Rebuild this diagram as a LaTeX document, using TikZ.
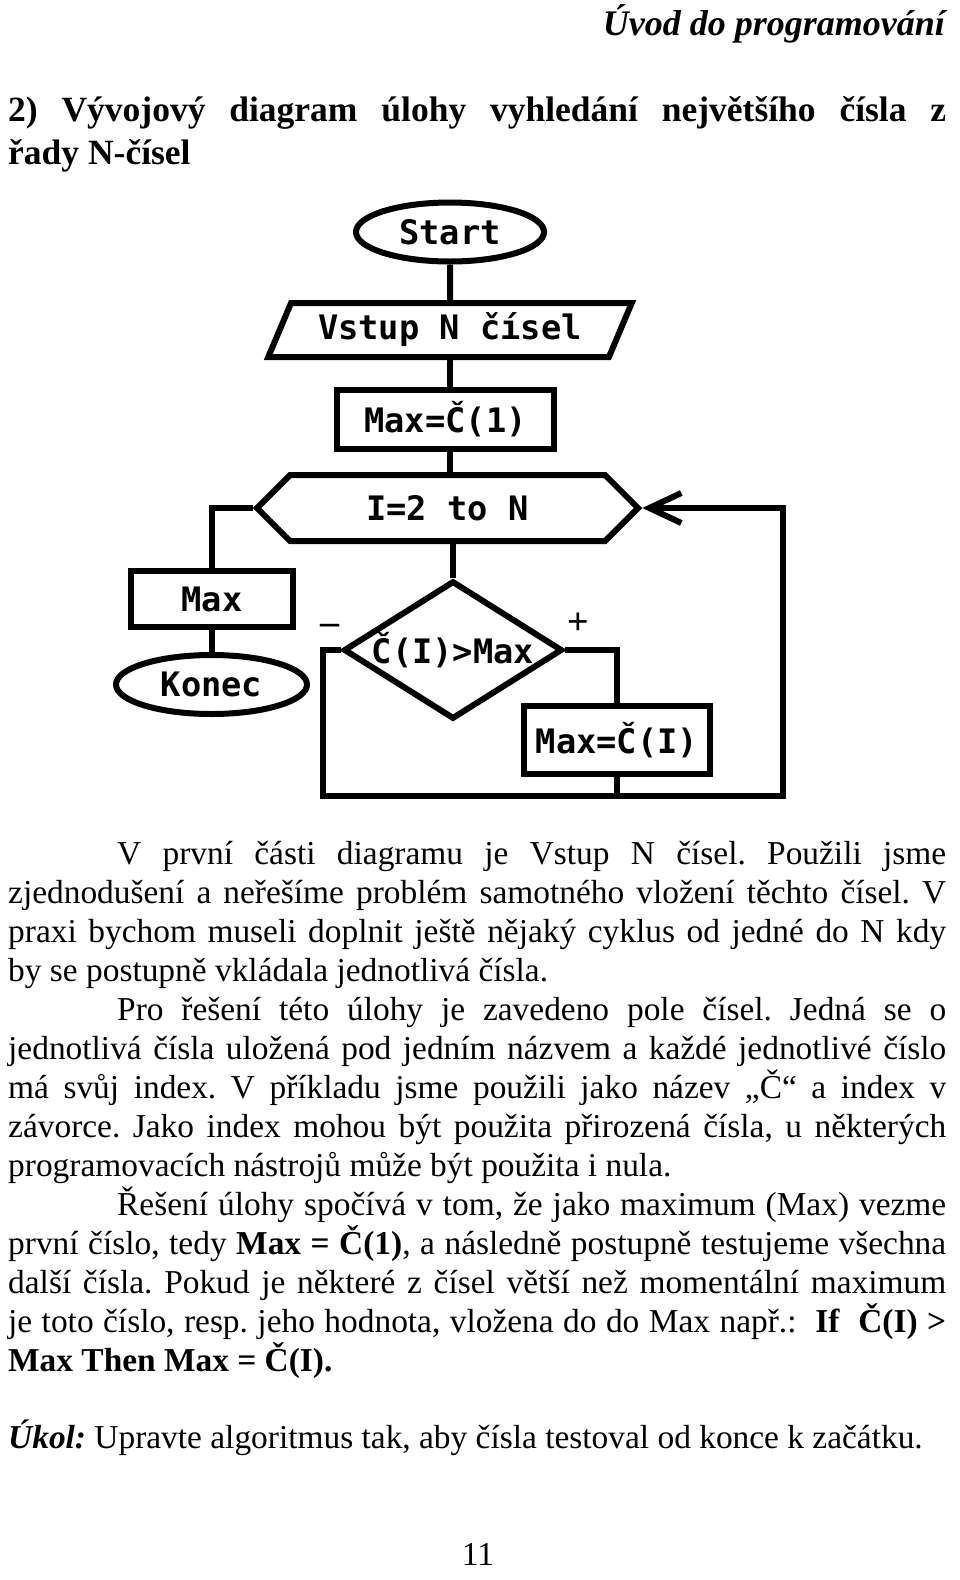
\documentclass[tikz,border=0pt]{standalone}
\usepackage{fontspec}
\setmainfont{Liberation Serif}
\newfontfamily\dgfont{DejaVu Sans Mono}
\usetikzlibrary{shapes.geometric,shapes.symbols,arrows.meta}
\frenchspacing
\begin{document}
\begin{tikzpicture}[x=1pt,y=-1pt,
  body/.style={inner sep=0pt, anchor=base west, font=\fontsize{33.4}{39}\selectfont},
  flow/.style={draw, line width=6pt, inner sep=0pt, font=\dgfont\bfseries\fontsize{33.7}{36}\selectfont},
  conn/.style={line width=6pt},
  lbl/.style={inner sep=0pt, anchor=base, font=\fontsize{38}{40}\selectfont\bfseries},
]
\fill[white] (0,0) rectangle (960,1580);
\useasboundingbox (0,0) rectangle (960,1580);

% header
\node[inner sep=0pt, anchor=base east, font=\fontsize{36}{40}\selectfont\bfseries\itshape] (hdr) at (945,35) {Úvod do programování};
\node[inner sep=0pt, anchor=base west, font=\fontsize{35.5}{40}\selectfont\bfseries] (h1) at (8,121) {\makebox[938pt][s]{2) Vývojový diagram úlohy vyhledání největšího čísla z}};
\node[inner sep=0pt, anchor=base west, font=\fontsize{35.5}{40}\selectfont\bfseries] (h2) at (8,164) {řady N-čísel};

% flowchart
\node[flow, ellipse, minimum width=188pt, minimum height=59pt] (start) at (450,232) {Start};
\node[flow, trapezium, trapezium left angle=60.9, trapezium right angle=119.1, trapezium stretches=true, minimum width=364pt, minimum height=54pt] (inp) at (450,330) {Vstup N čísel};
\node[flow, rectangle, minimum width=217pt, minimum height=59pt] (max1) at (445.5,419.5) {Max=Č(1)};
\node[flow, signal, signal to=west and east, signal pointer angle=90, minimum width=381pt, minimum height=66pt] (loop) at (447.5,508) {I=2 to N};
\node[flow, rectangle, minimum width=162pt, minimum height=56pt] (maxout) at (212,599) {Max};
\node[flow, ellipse, minimum width=191pt, minimum height=59pt] (konec) at (211.5,684.5) {Konec};
\node[flow, diamond, aspect=1.582, minimum width=212pt, minimum height=134pt] (test) at (453,650) {Č(I)>Max};
\node[flow, rectangle, minimum width=186pt, minimum height=68pt] (max2) at (617,740) {Max=Č(I)};
\node[lbl] (minus) at (330,634) {–};
\node[lbl] (plus) at (578,634) {+};
\coordinate (bl) at (323,796);
\coordinate (br) at (783,796);

\draw[conn] (start.south) -- (inp.north);
\draw[conn] (inp.south) -- (inp.south |- max1.north);
\draw[conn] (max1.south -| inp.south) -- (loop.north -| inp.south);
\draw[conn] (loop.west) -| (maxout.north);
\draw[conn] (maxout.south) -- (maxout.south |- konec.north);
\draw[conn] (test.north |- loop.south) -- (test.north);
\draw[conn] (test.east) -| (max2.north);
\draw[conn] (max2.south) -- (max2.south |- bl);
\draw[conn, -{Straight Barb[length=32pt,width=30pt]}] (test.west) -| (bl) -- (br) |- (loop.east);

% body text
\node[body] (l1) at (117,864) {\makebox[829pt][s]{V první části diagramu je Vstup N čísel. Použili jsme}};
\node[body] (l2) at (8,903) {\makebox[938pt][s]{zjednodušení a neřešíme problém samotného vložení těchto čísel. V}};
\node[body] (l3) at (8,942) {\makebox[938pt][s]{praxi bychom museli doplnit ještě nějaký cyklus od jedné do N kdy}};
\node[body] (l4) at (8,981) {by se postupně vkládala jednotlivá čísla.};
\node[body] (l5) at (117,1020) {\makebox[829pt][s]{Pro řešení této úlohy je zavedeno pole čísel. Jedná se o}};
\node[body] (l6) at (8,1059) {\makebox[938pt][s]{jednotlivá čísla uložená pod jedním názvem a každé jednotlivé číslo}};
\node[body] (l7) at (8,1098) {\makebox[938pt][s]{má svůj index. V příkladu jsme použili jako název „Č“ a index v}};
\node[body] (l8) at (8,1137) {\makebox[938pt][s]{závorce. Jako index mohou být použita přirozená čísla, u některých}};
\node[body] (l9) at (8,1176) {programovacích nástrojů může být použita i nula.};
\node[body] (l10) at (117,1215) {\makebox[829pt][s]{Řešení úlohy spočívá v tom, že jako maximum (Max) vezme}};
\node[body] (l11) at (8,1254) {\makebox[938pt][s]{první číslo, tedy \textbf{Max = Č(1)}, a následně postupně testujeme všechna}};
\node[body] (l12) at (8,1293) {\makebox[938pt][s]{další čísla. Pokud je některé z čísel větší než momentální maximum}};
\node[body] (l13) at (8,1332) {\makebox[938pt][s]{je toto číslo, resp. jeho hodnota, vložena do do Max např.:\ \ \textbf{If\ \ Č(I) >}}};
\node[body] (l14) at (8,1371) {\textbf{Max Then Max = Č(I).}};
\node[body] (l15) at (8,1448) {\textbf{\textit{Úkol:}} Upravte algoritmus tak, aby čísla testoval od konce k začátku.};
\node[inner sep=0pt, anchor=base, font=\fontsize{33.4}{39}\selectfont] (pg) at (478,1565) {11};
\end{tikzpicture}
\end{document}
